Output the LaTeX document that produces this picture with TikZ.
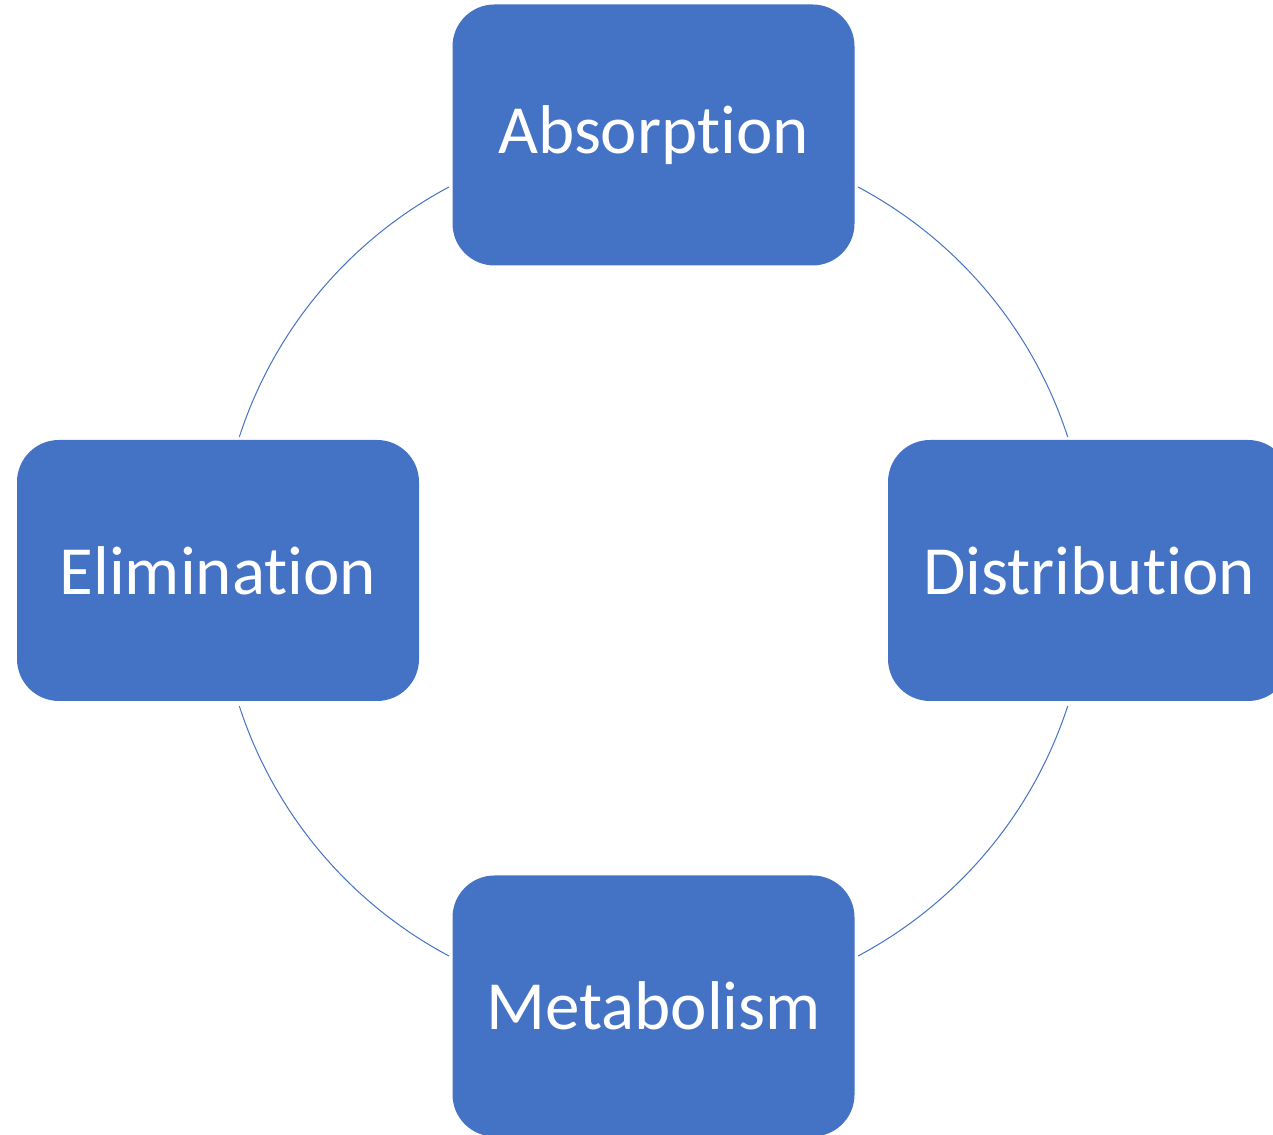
\documentclass[tikz,border=0pt]{standalone}
\usepackage{fontspec}
\setmainfont{Carlito}[Ligatures={NoCommon}]
\definecolor{cycleblue}{HTML}{4472C4}

\begin{document}
\begin{tikzpicture}[x=1pt,y=1pt]
\tikzset{phase/.style={fill=cycleblue, text=white, rounded corners=42pt,
  minimum width=402pt, minimum height=261pt, inner sep=0pt,
  font=\fontsize{69}{80}\selectfont}}
\useasboundingbox (0,0) rectangle (1273,1134);
\clip (0,0) rectangle (1273,1134);
\coordinate (hub) at (653.5,562.5);
% the four phases
\node[phase] (absorption) at (653.5,999) {Absorption};
\node[phase] (distribution) at (1089,563.5) {Distribution};
\node[phase] (metabolism) at (653.5,128) {Metabolism};
\node[phase] (elimination) at (218,563.5) {Elimination};
% cycle arcs
\foreach \a/\b in {18/62, 118/162, 198/242, 298/342}
  \draw [cycleblue, line width=1pt] ([shift={(\a:435.5)}]hub) arc [start angle=\a, end angle=\b, radius=435.5];
\end{tikzpicture}
\end{document}
